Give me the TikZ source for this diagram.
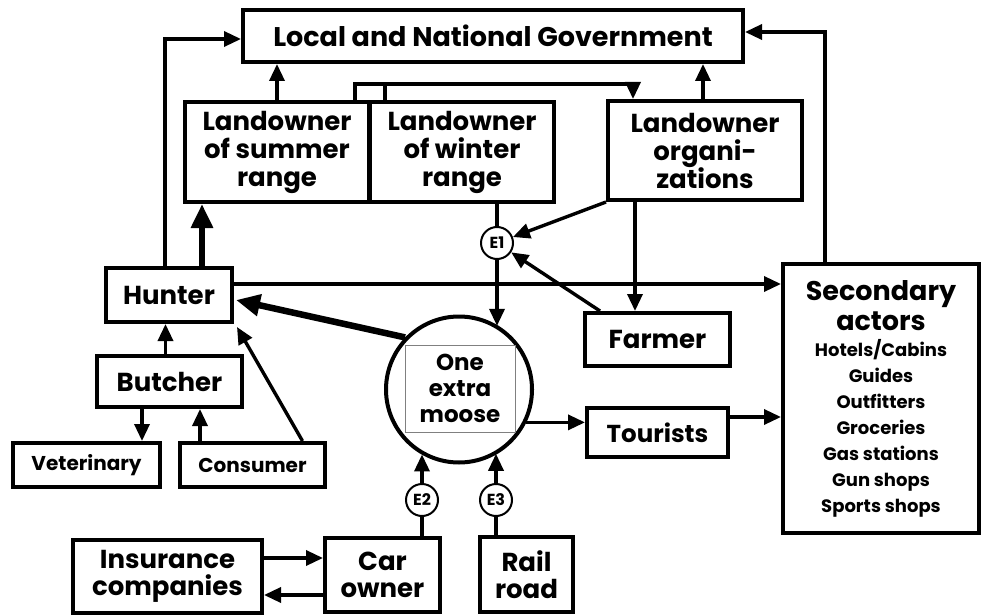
\documentclass[tikz,border=0pt]{standalone}
\usepackage{fontspec}
\setmainfont{Poppins}
\usetikzlibrary{arrows.meta,calc}
\newcommand{\itm}[1]{{\fontsize{18}{20}\selectfont #1}}
\tikzset{
  box/.style={draw, line width=4pt, align=center, inner sep=0pt, font=\bfseries\fontsize{26}{28}\selectfont},
  ebox/.style={draw, circle, line width=2pt, inner sep=0pt, minimum size=32pt, font=\bfseries\fontsize{16}{16}\selectfont},
  conn/.style={line width=3.4pt},
  arr/.style={line width=3.4pt, -{Triangle[length=17pt,width=15pt]}},
  thickarr/.style={line width=6.5pt, -{Triangle[length=24pt,width=21pt]}},
}
\begin{document}
\begin{tikzpicture}[x=1pt,y=-1pt]
\useasboundingbox (0,0) rectangle (985,615);
% nodes
\node[box, minimum width=500pt, minimum height=52pt, font=\bfseries\fontsize{27}{28}\selectfont] (gov) at (493,36) {Local and National Government};
\node[box, minimum width=184pt, minimum height=100pt] (sum) at (277,152) {Landowner\\of summer\\range};
\node[box, minimum width=184pt, minimum height=100pt] (win) at (462,152) {Landowner\\of winter\\range};
\node[box, minimum width=194pt, minimum height=99pt] (org) at (705,150.5) {Landowner\\organi-\\zations};
\node[box, minimum width=196pt, minimum height=269pt, font=\bfseries\fontsize{27}{30}\selectfont] (sec) at (881,398.5) {Secondary\\actors\\[-4pt]\itm{Hotels/Cabins}\\[-4pt]\itm{Guides}\\[-4pt]\itm{Outfitters}\\[-4pt]\itm{Groceries}\\[-4pt]\itm{Gas stations}\\[-4pt]\itm{Gun shops}\\[-4pt]\itm{Sports shops}};
\node[box, minimum width=145pt, minimum height=53pt] (farmer) at (657.5,339.5) {Farmer};
\node[box, minimum width=126pt, minimum height=54pt] (hunter) at (169,295) {Hunter};
\node[box, minimum width=145pt, minimum height=51pt] (butcher) at (169.5,381.5) {Butcher};
\node[box, minimum width=147pt, minimum height=44pt, font=\bfseries\fontsize{20}{22}\selectfont] (vet) at (86.5,465) {Veterinary};
\node[box, minimum width=145pt, minimum height=44pt, font=\bfseries\fontsize{20}{22}\selectfont] (cons) at (252.5,465) {Consumer};
\node[draw, circle, line width=4pt, minimum size=146pt, inner sep=0pt] (moose) at (459,389.5) {};
\node[draw=gray, line width=0.8pt, minimum width=110pt, minimum height=87pt, align=center, inner sep=0pt, font=\bfseries\fontsize{23}{26}\selectfont] (mtext) at (460,388.5) {One\\extra\\moose};
\node[box, minimum width=141pt, minimum height=49pt, font=\bfseries\fontsize{24.5}{28}\selectfont] (tourists) at (657.5,432.5) {Tourists};
\node[ebox] (e1) at (497,243) {E1};
\node[ebox] (e2) at (422,500) {E2};
\node[ebox] (e3) at (496,500) {E3};
\node[box, minimum width=189pt, minimum height=73pt, font=\bfseries\fontsize{26}{27}\selectfont] (ins) at (167.5,576.5) {Insurance\\companies};
\node[box, minimum width=115pt, minimum height=74pt, font=\bfseries\fontsize{26}{27}\selectfont] (car) at (382.5,575) {Car\\owner};
\node[box, minimum width=93pt, minimum height=75pt, font=\bfseries\fontsize{26}{27}\selectfont] (rail) at (526.5,574.5) {Rail\\road};
% connectors
\coordinate (h0) at ($(hunter.north)+(-4,0)$);
\draw[arr] (h0) |- ($(gov.west)+(0,3)$);
\draw[thickarr] ($(hunter.north)+(33,0)$) -- ($(sum.south)+(-75,0)$);
\draw[arr] (sum.north) -- (sum.north |- gov.south);
\coordinate (so) at ($(sum.north)+(78,0)$);
\coordinate (oo) at ($(org.north)+(-72,0)$);
\draw[arr] (so) |- ($(oo)+(0,-15)$) -- (oo);
\coordinate (wo) at ($(win.north)+(-77,0)$);
\draw[conn] (wo) -- ($(wo)+(0,-16)$);
\coordinate (o1) at ($(org.north)+(-2,0)$);
\draw[arr] (o1) -- (o1 |- gov.south);
\coordinate (s1) at ($(sec.north)+(-56,0)$);
\draw[arr] (s1) |- ($(gov.east)+(0,-4)$);
\draw[conn] (e1 |- win.south) -- (e1.north);
\draw[arr] (e1.south) -- (e1 |- moose.58.6);
\draw[arr] (org.south west) -- (e1);
\coordinate (f1) at ($(farmer.north west)+(17,0)$);
\draw[arr] (f1) -- (e1);
\coordinate (o2) at ($(org.south)+(-70,0)$);
\draw[arr] (o2) -- (o2 |- farmer.north);
\coordinate (h1) at ($(hunter.east)+(0,-11)$);
\draw[arr] (h1) -- (h1 -| sec.west);
\draw[thickarr] (moose.136) -- ($(hunter.east)+(2,5)$);
\coordinate (b1) at ($(butcher.north)+(-4,0)$);
\draw[arr] (b1) -- (b1 |- hunter.south);
\draw[arr] ($(cons.north)+(50,0)$) -- ($(hunter.south east)+(3,3)$);
\coordinate (b2) at ($(butcher.south)+(-27.5,0)$);
\draw[arr] (b2) -- (b2 |- vet.north);
\coordinate (c1) at ($(cons.north)+(-52.5,0)$);
\draw[arr] (c1) -- (c1 |- butcher.south);
\draw[arr] (moose.-26.4) -- (moose.-26.4 -| tourists.west);
\coordinate (t2) at ($(tourists.east)+(0,-15.5)$);
\draw[arr] (t2) -- (t2 -| sec.west);
\draw[conn] (car.north -| e2) -- (e2.south);
\draw[arr] (e2.north) -- (e2 |- moose.-120.5);
\draw[conn] (rail.north -| e3) -- (e3.south);
\draw[arr] (e3.north) -- (e3 |- moose.-59.5);
\coordinate (i1) at ($(ins.east)+(0,-18.5)$);
\draw[arr] (i1) -- (i1 -| car.west);
\coordinate (i2) at ($(ins.east)+(0,18.5)$);
\draw[arr] (i2 -| car.west) -- (i2);
\end{tikzpicture}
\end{document}
